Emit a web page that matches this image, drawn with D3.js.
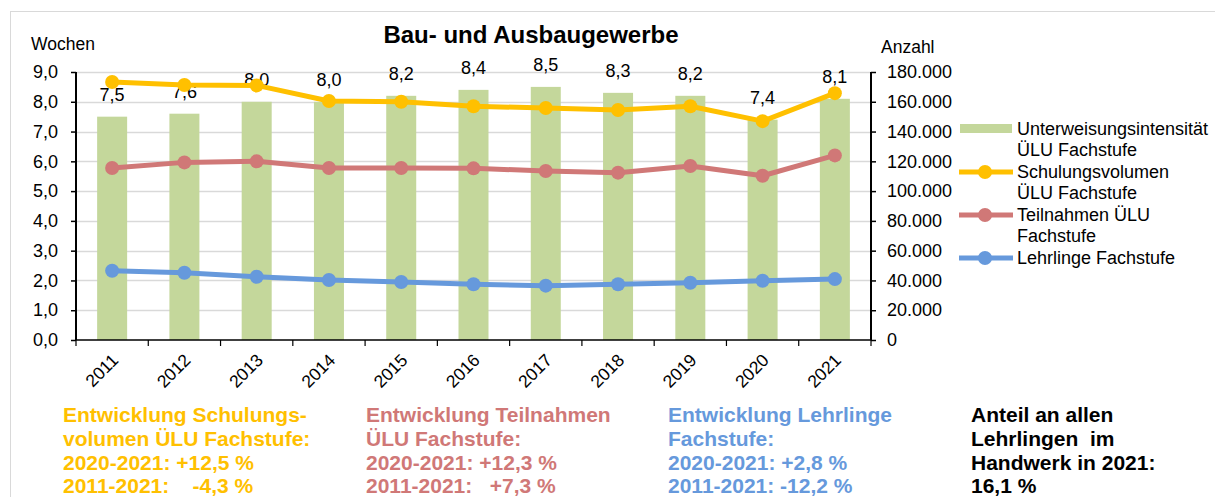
<!DOCTYPE html>
<html>
<head>
<meta charset="utf-8">
<script src="https://cdn.jsdelivr.net/npm/d3@7/dist/d3.min.js"></script>
<style>
  body { margin: 0; background: #fff; }
  svg { display: block; font-family: "Liberation Sans", Arial, sans-serif; }
</style>
</head>
<body>
<svg id="chart" width="1215" height="497"></svg>
<script>
// data
var years = ["2011", "2012", "2013", "2014", "2015", "2016", "2017", "2018", "2019", "2020", "2021"];
var intensitaet = [7.5, 7.6, 8.0, 8.0, 8.2, 8.4, 8.5, 8.3, 8.2, 7.4, 8.1];
var schulungsvolumen = [173300, 171300, 171000, 160500, 160000, 157000, 155800, 154500, 157000, 147000, 165800];
var teilnahmen = [115500, 119300, 120000, 115500, 115500, 115300, 113500, 112400, 116900, 110300, 124000];
var lehrlinge = [46500, 45200, 42500, 40300, 39000, 37400, 36500, 37400, 38500, 39800, 40900];
var leftTicks = [0, 1, 2, 3, 4, 5, 6, 7, 8, 9];
var rightTicks = [0, 20000, 40000, 60000, 80000, 100000, 120000, 140000, 160000, 180000];

var lineSeries = [
  { name: ["Schulungsvolumen", "ÜLU Fachstufe"], values: schulungsvolumen, color: "#ffc000" },
  { name: ["Teilnahmen ÜLU", "Fachstufe"], values: teilnahmen, color: "#d07877" },
  { name: ["Lehrlinge Fachstufe"], values: lehrlinge, color: "#6699dc" }
];
var barColor = "#c4d79b";

var notes = [
  { color: "#ffc000", lines: ["Entwicklung Schulungs-", "volumen ÜLU Fachstufe:", "2020-2021: +12,5 %", "2011-2021:    -4,3 %"] },
  { color: "#d07877", lines: ["Entwicklung Teilnahmen", "ÜLU Fachstufe:", "2020-2021: +12,3 %", "2011-2021:   +7,3 %"] },
  { color: "#6699dc", lines: ["Entwicklung Lehrlinge", "Fachstufe:", "2020-2021: +2,8 %", "2011-2021: -12,2 %"] },
  { color: "#000000", lines: ["Anteil an allen", "Lehrlingen  im", "Handwerk in 2021:", "16,1 %"] }
];

var svg = d3.select("#chart");
var fmtL = d3.format(".1f");
function comma(s) { return s.replace(".", ","); }
var fmtR = function (v) { return v === 0 ? "0" : d3.format(",")(v).replace(/,/g, "."); };

// frame
svg.append("rect").attr("x", 10.5).attr("y", 11.5).attr("width", 1230).attr("height", 520)
  .attr("fill", "none").attr("stroke", "#d9d9d9").attr("stroke-width", 1);

var plot = { left: 76, right: 871, top: 72, bottom: 340 };

var x = d3.scaleBand().domain(years).range([plot.left, plot.right]).paddingInner(0).paddingOuter(0);
var yL = d3.scaleLinear().domain([0, 9]).range([plot.bottom, plot.top]);
var yR = d3.scaleLinear().domain([0, 180000]).range([plot.bottom, plot.top]);

// gridlines
svg.append("g").selectAll("line").data(leftTicks.slice(1)).enter().append("line")
  .attr("x1", plot.left).attr("x2", plot.right)
  .attr("y1", function (d) { return Math.round(yL(d)) + 0.5; })
  .attr("y2", function (d) { return Math.round(yL(d)) + 0.5; })
  .attr("stroke", "#d9d9d9").attr("stroke-width", 1.5);

// bars
var barW = 30;
svg.append("g").selectAll("rect").data(intensitaet).enter().append("rect")
  .attr("x", function (d, i) { return x(years[i]) + x.bandwidth() / 2 - barW / 2; })
  .attr("y", function (d) { return yL(d); })
  .attr("width", barW)
  .attr("height", function (d) { return plot.bottom - yL(d); })
  .attr("fill", barColor);

// bar labels
svg.append("g").selectAll("text").data(intensitaet).enter().append("text")
  .attr("x", function (d, i) { return x(years[i]) + x.bandwidth() / 2; })
  .attr("y", function (d) { return yL(d) - 16; })
  .attr("text-anchor", "middle")
  .attr("font-size", 18)
  .attr("fill", "#000")
  .text(function (d) { return comma(fmtL(d)); });

// lines
var cx = function (d, i) { return x(years[i]) + x.bandwidth() / 2; };
lineSeries.forEach(function (s) {
  var line = d3.line().x(cx).y(function (d) { return yR(d); });
  svg.append("path").datum(s.values).attr("d", line)
    .attr("fill", "none").attr("stroke", s.color).attr("stroke-width", 5)
    .attr("stroke-linejoin", "round");
  svg.append("g").selectAll("circle").data(s.values).enter().append("circle")
    .attr("cx", cx).attr("cy", function (d) { return yR(d); })
    .attr("r", 7).attr("fill", s.color);
});

// left axis
var gL = svg.append("g").attr("transform", "translate(" + plot.left + ",0)")
  .call(d3.axisLeft(yL).tickValues(leftTicks).tickSize(5).tickPadding(13)
    .tickFormat(function (d) { return comma(fmtL(d)); }));
// right axis
var gR = svg.append("g").attr("transform", "translate(" + plot.right + ",0)")
  .call(d3.axisRight(yR).tickValues(rightTicks).tickSize(5).tickPadding(11).tickFormat(fmtR));
[gL, gR].forEach(function (g) {
  g.select(".domain").attr("stroke", "#000").attr("stroke-width", 2).attr("d",
    "M0," + plot.top + "V" + plot.bottom);
  g.selectAll(".tick line").attr("stroke", "#000").attr("stroke-width", 1.5);
  g.selectAll(".tick text").attr("font-size", 18).attr("fill", "#000")
    .attr("font-family", "Liberation Sans, Arial, sans-serif");
});

// bottom axis
var xBounds = years.map(function (y) { return x(y); }).concat([plot.right]);
var gB = svg.append("g");
gB.append("line").attr("x1", plot.left).attr("x2", plot.right + 1)
  .attr("y1", plot.bottom).attr("y2", plot.bottom).attr("stroke", "#000").attr("stroke-width", 1.5);
gB.selectAll("line.tk").data(xBounds).enter().append("line").attr("class", "tk")
  .attr("x1", function (d) { return d; }).attr("x2", function (d) { return d; })
  .attr("y1", plot.bottom).attr("y2", plot.bottom + 6).attr("stroke", "#000").attr("stroke-width", 1.2);
gB.selectAll("text").data(years).enter().append("text")
  .attr("transform", function (d) {
    return "translate(" + (x(d) + x.bandwidth() / 2 + 3) + "," + (plot.bottom + 17) + ") rotate(-45)";
  })
  .attr("text-anchor", "end").attr("dy", "0.35em")
  .attr("font-size", 17.5).attr("fill", "#000")
  .text(function (d) { return d; });

// axis titles and title
svg.append("text").attr("x", 31).attr("y", 50).attr("font-size", 17.5).text("Wochen");
svg.append("text").attr("x", 881).attr("y", 53).attr("font-size", 17.5).text("Anzahl");
svg.append("text").attr("x", 531).attr("y", 43).attr("text-anchor", "middle")
  .attr("font-size", 24).attr("font-weight", "bold").text("Bau- und Ausbaugewerbe");

// legend
var lg = svg.append("g").attr("font-size", 18).attr("fill", "#000");
lg.append("rect").attr("x", 960).attr("y", 124).attr("width", 52).attr("height", 9).attr("fill", barColor);
lg.append("text").attr("x", 1017).attr("y", 135).text("Unterweisungsintensität");
lg.append("text").attr("x", 1017).attr("y", 156).text("ÜLU Fachstufe");
var legY = [172, 215, 258];
lineSeries.forEach(function (s, i) {
  var yy = legY[i];
  lg.append("line").attr("x1", 959).attr("x2", 1013).attr("y1", yy).attr("y2", yy)
    .attr("stroke", s.color).attr("stroke-width", 5);
  lg.append("circle").attr("cx", 985).attr("cy", yy).attr("r", 7).attr("fill", s.color);
  s.name.forEach(function (t, j) {
    lg.append("text").attr("x", 1017).attr("y", yy + 6 + j * 21).text(t);
  });
});

// notes under the chart
var noteX = [63, 366, 668, 971];
notes.forEach(function (n, i) {
  var t = svg.append("text").attr("font-size", 21).attr("font-weight", "bold")
    .attr("fill", n.color).style("white-space", "pre");
  n.lines.forEach(function (l, j) {
    t.append("tspan").attr("x", noteX[i]).attr("y", 422 + j * 23.8).text(l);
  });
});
</script>
</body>
</html>
